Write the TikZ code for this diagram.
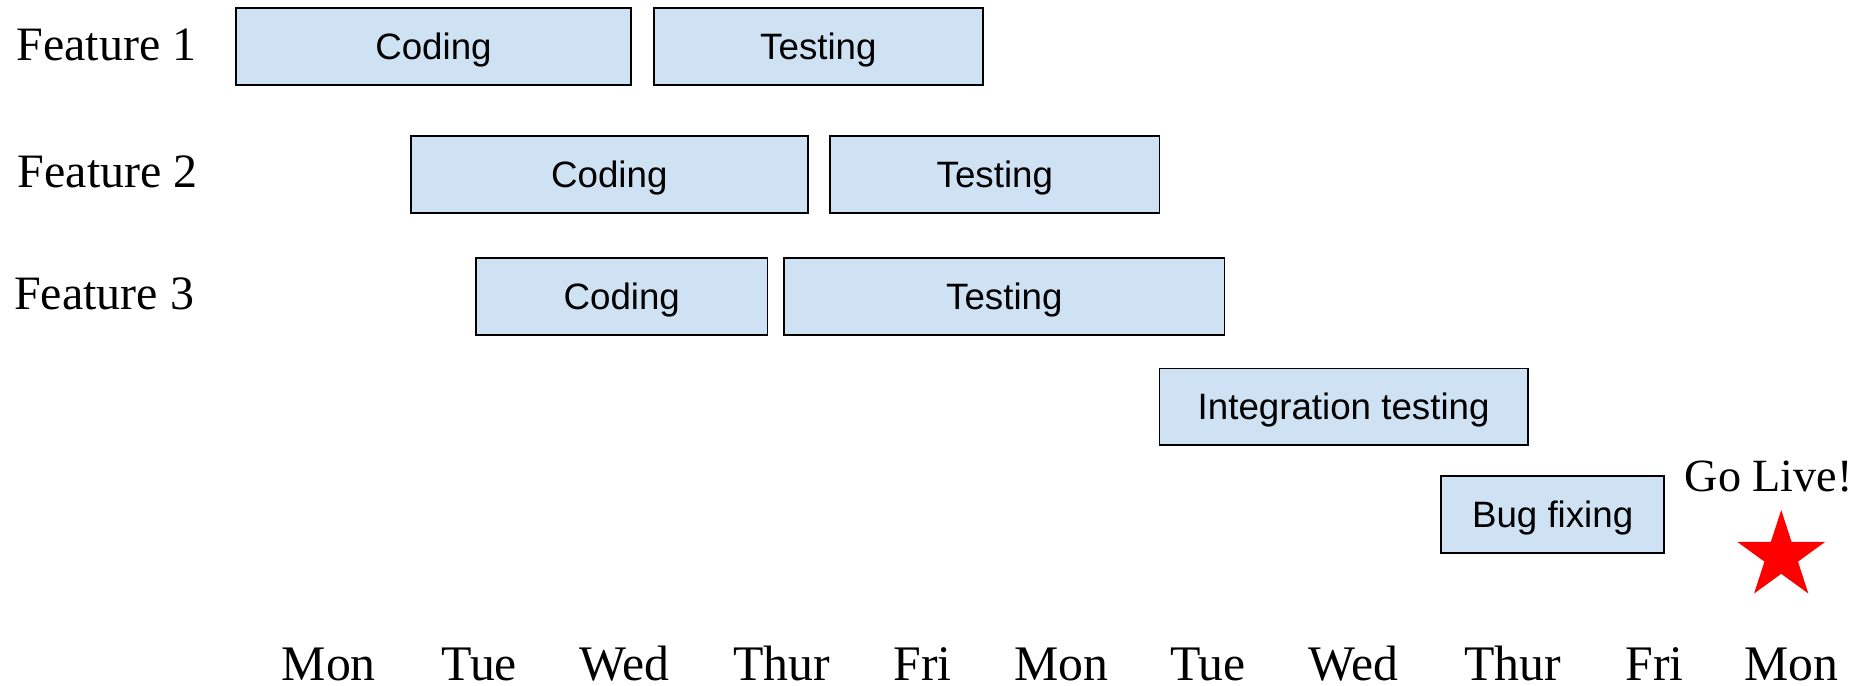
\documentclass[tikz,border=0pt]{standalone}
\usepackage{fontspec}
\setmainfont{Liberation Serif}
\setsansfont{Liberation Sans}
\usetikzlibrary{shapes.geometric}
\definecolor{taskblue}{RGB}{207,226,243}

\begin{document}
\begin{tikzpicture}[x=1pt,y=-1pt]
    \tikzstyle{task}=[rectangle,draw=black,line width=1.4pt,fill=taskblue,minimum height=65pt,inner sep=0pt,text height=22.2pt,text depth=0pt,font=\sffamily\fontsize{31}{37}\selectfont]
    \tikzstyle{feature}=[anchor=base,font=\fontsize{40.5}{48}\selectfont]
    \tikzstyle{day}=[anchor=base,inner sep=0pt,text depth=0pt,font=\fontsize{42}{50}\selectfont]
    \useasboundingbox (0,0) rectangle (1568,579);

    % Feature labels
    \node[feature] (F-1) at (90,50.7) {Feature 1};
    \node[feature] (F-2) at (91,158.5) {Feature 2};
    \node[feature] (F-3) at (88,261.2) {Feature 3};

    % Feature 1
    \node[task,minimum width=334pt] (C-1) at (366,39.5) {Coding};
    \node[task,minimum width=278pt] (T-1) at (691,39.5) {Testing};
    % Feature 2
    \node[task,minimum width=335pt] (C-2) at (514.5,147.5) {Coding};
    \node[task,minimum width=278pt] (T-2) at (840,147.5) {Testing};
    % Feature 3
    \node[task,minimum width=246pt] (C-3) at (525,250.5) {Coding};
    \node[task,minimum width=372pt] (T-3) at (848,250.5) {Testing};
    % Integration and bug fixing
    \node[task,minimum width=311pt] (I) at (1134.5,343.5) {Integration testing};
    \node[task,minimum width=188pt] (B) at (1311,434.5) {Bug fixing};

    % Days
    \foreach \name/\x [count=\i] in {Mon/277.7,Tue/404.6,Wed/527,Thur/660,Fri/779,Mon/896,Tue/1020,Wed/1143,Thur/1277,Fri/1397,Mon/1512.5}
        \node[day] (D-\i) at (\x,575) {\name};

    % Go live
    \node[star,star points=5,star point ratio=2.618,fill=red,minimum size=78pt,inner sep=0pt] (star) at (1504,469.6) {};
    \node[anchor=base,font=\fontsize{39}{46}\selectfont] (live) at (1493.5,415) {Go Live!};
\end{tikzpicture}
\end{document}
